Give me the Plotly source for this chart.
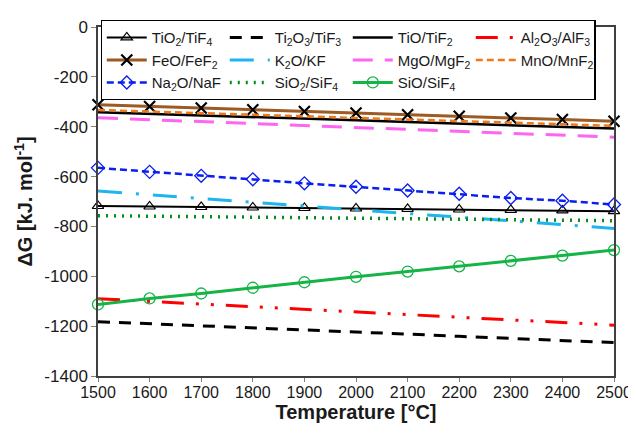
import plotly.graph_objects as go

temps = [1500, 1600, 1700, 1800, 1900, 2000, 2100, 2200, 2300, 2400, 2500]

tio2_tif4 = [-718, -720, -722, -724, -726, -728, -730, -732, -734, -736, -739]
ti2o3_tif3 = [-1182, -1190, -1199, -1207, -1216, -1224, -1232, -1241, -1249, -1258, -1266]
tio_tif2 = [-342, -348, -355, -361, -368, -374, -381, -387, -394, -400, -407]
al2o3_alf3 = [-1090, -1101, -1111, -1122, -1132, -1143, -1154, -1164, -1175, -1185, -1196]
feo_fef2 = [-312, -319, -325, -332, -339, -345, -352, -358, -365, -371, -378]
k2o_kf = [-658, -673, -688, -703, -718, -733, -748, -763, -778, -793, -808]
mgo_mgf2 = [-364, -372, -380, -387, -395, -403, -411, -419, -426, -434, -442]
mno_mnf2 = [-333, -339, -346, -352, -358, -365, -371, -378, -384, -390, -397]
na2o_naf = [-565, -581, -597, -611, -627, -641, -656, -669, -686, -697, -712]
sio2_sif4 = [-757, -759, -761, -763, -765, -767, -769, -771, -773, -775, -777]
sio_sif4 = [-1113, -1089, -1069, -1046, -1024, -1002, -981, -960, -938, -917, -895]

y_ticks = [0, -200, -400, -600, -800, -1000, -1200, -1400]
y_tick_labels = ["0", "-200", "-400", "-600", "-800", "-1000", "-1200", "-1400"]

series = [
    ("TiO<sub>2</sub>/TiF<sub>4</sub>", tio2_tif4, dict(color="black", width=2, dash="solid"),
     dict(symbol="triangle-up-open", size=10, color="black", line=dict(width=1.2))),
    ("Ti<sub>2</sub>O<sub>3</sub>/TiF<sub>3</sub>", ti2o3_tif3, dict(color="black", width=3, dash="12px,9px"), None),
    ("TiO/TiF<sub>2</sub>", tio_tif2, dict(color="black", width=2.5, dash="solid"), None),
    ("Al<sub>2</sub>O<sub>3</sub>/AlF<sub>3</sub>", al2o3_alf3, dict(color="#FF0000", width=3, dash="22px,12px,3px,12px,3px,12px"), None),
    ("FeO/FeF<sub>2</sub>", feo_fef2, dict(color="#9C5A24", width=3, dash="solid"),
     dict(symbol="x-thin-open", size=11, color="black", line=dict(width=2.2, color="black"))),
    ("K<sub>2</sub>O/KF", k2o_kf, dict(color="#1EB4F0", width=3, dash="24px,14px,3px,14px"), None),
    ("MgO/MgF<sub>2</sub>", mgo_mgf2, dict(color="#FF66F0", width=3, dash="20px,12px"), None),
    ("MnO/MnF<sub>2</sub>", mno_mnf2, dict(color="#F07818", width=2.5, dash="7px,4px"), None),
    ("Na<sub>2</sub>O/NaF", na2o_naf, dict(color="#0A1EF0", width=2.5, dash="7px,4px"),
     dict(symbol="diamond-open", size=10, color="#0A1EF0", line=dict(width=1.3))),
    ("SiO<sub>2</sub>/SiF<sub>4</sub>", sio2_sif4, dict(color="#0A8A1E", width=3.5, dash="2px,6px"), None),
    ("SiO/SiF<sub>4</sub>", sio_sif4, dict(color="#14B446", width=3, dash="solid"),
     dict(symbol="circle-open", size=11, color="#14B446", line=dict(width=1.3))),
]

fig = go.Figure()
for name, vals, line, marker in series:
    kw = dict(x=temps, y=vals, name=name, line=line, cliponaxis=False)
    if marker:
        kw["mode"] = "lines+markers"
        kw["marker"] = marker
    else:
        kw["mode"] = "lines"
    fig.add_trace(go.Scatter(**kw))

fig.update_layout(
    width=636, height=426,
    margin=dict(l=90, r=30, t=14, b=58),
    paper_bgcolor="white", plot_bgcolor="white",
    font=dict(family="Liberation Sans, Arial, sans-serif", size=17, color="#1a1a1a"),
    showlegend=True,
    legend=dict(
        orientation="h", x=0.005, y=1.02, xanchor="left", yanchor="top",
        entrywidth=68, entrywidthmode="pixels",
        bordercolor="black", borderwidth=1.2, bgcolor="white",
        font=dict(size=15), tracegroupgap=0, itemwidth=40,
    ),
    xaxis=dict(
        range=[1500, 2500], dtick=100, tick0=1500, automargin=False,
        showgrid=False, zeroline=False,
        showline=True, linecolor="#404040", linewidth=1.5, mirror=True,
        ticks="outside", ticklen=4, tickcolor="#808080", ticklabelstandoff=-3,
        title=dict(text="<b>Temperature [°C]</b>", font=dict(size=20), standoff=0),
        tickfont=dict(size=16),
    ),
    yaxis=dict(
        range=[-1400, 0], tickvals=y_ticks, ticktext=y_tick_labels, automargin=False,
        showgrid=False, zeroline=False,
        showline=True, linecolor="#404040", linewidth=1.5, mirror=True,
        ticks="outside", ticklen=5, tickcolor="#808080",
        title=dict(text="<b>ΔG [kJ. mol<sup>-1</sup>]</b>", font=dict(size=20), standoff=6),
        tickfont=dict(size=17),
    ),
)

fig.write_html("out.html")
